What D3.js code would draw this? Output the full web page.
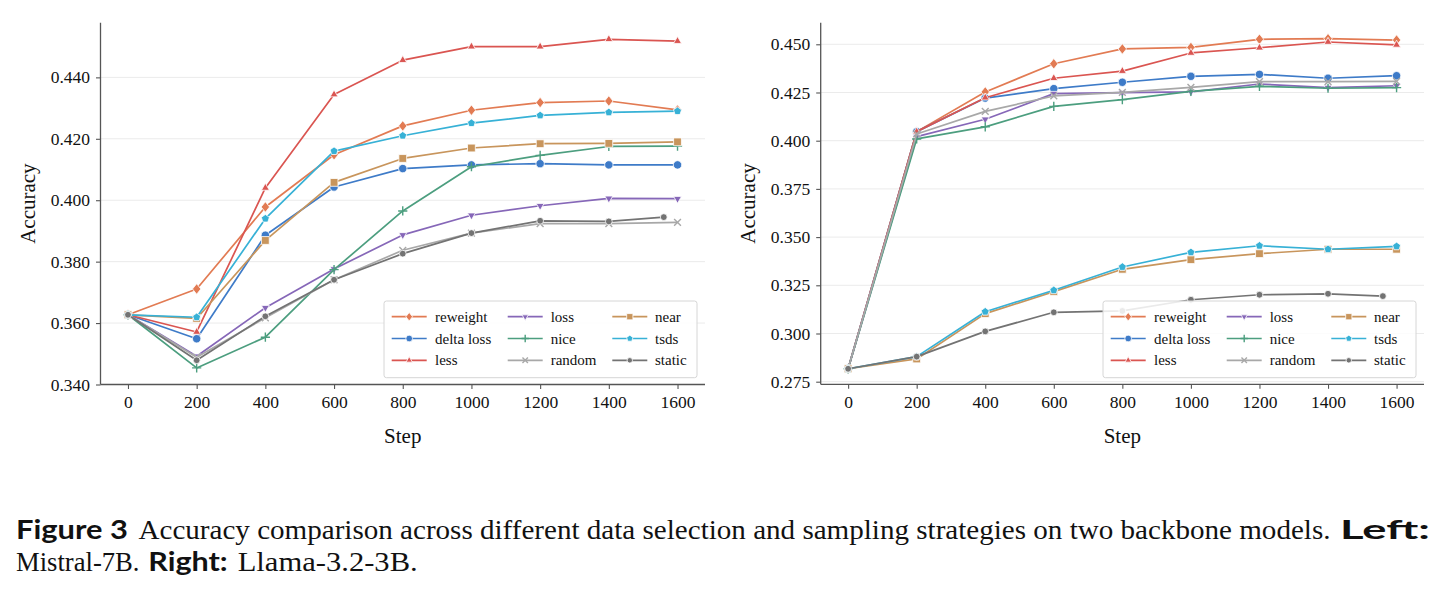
<!DOCTYPE html>
<html>
<head>
<meta charset="utf-8">
<script src="https://cdn.jsdelivr.net/npm/d3@7"></script>
<style>
  body { margin: 0; background: #fff; }
  svg { display: block; }
</style>
</head>
<body>
<div id="chart"></div>
<script>
// steps on the x axis; "static" stops a bit before 1600
const steps = [0, 200, 400, 600, 800, 1000, 1200, 1400, 1600];
const staticSteps = [0, 200, 400, 600, 800, 1000, 1200, 1400, 1560];

const seriesNames = ["reweight", "delta loss", "less", "loss", "nice", "random", "near", "tsds", "static"];

// Mistral-7B (left), one row per series, same order as seriesNames
const mistralAcc = [
  [0.3627, 0.3711, 0.3978, 0.4148, 0.4242, 0.4293, 0.4318, 0.4323, 0.4294],
  [0.3627, 0.3549, 0.3886, 0.4043, 0.4103, 0.4115, 0.4119, 0.4115, 0.4115],
  [0.3627, 0.3571, 0.4040, 0.4344, 0.4456, 0.4500, 0.4500, 0.4524, 0.4518],
  [0.3627, 0.3492, 0.3650, 0.3776, 0.3887, 0.3951, 0.3982, 0.4006, 0.4005],
  [0.3627, 0.3454, 0.3554, 0.3774, 0.3965, 0.4109, 0.4146, 0.4175, 0.4176],
  [0.3627, 0.3489, 0.3617, 0.3741, 0.3837, 0.3893, 0.3924, 0.3924, 0.3928],
  [0.3627, 0.3615, 0.3869, 0.4058, 0.4136, 0.4170, 0.4184, 0.4185, 0.4190],
  [0.3627, 0.3619, 0.3940, 0.4160, 0.4210, 0.4251, 0.4276, 0.4286, 0.4290],
  [0.3627, 0.3479, 0.3622, 0.3741, 0.3826, 0.3893, 0.3933, 0.3931, 0.3945]
];

// Llama-3.2-3B (right)
const llamaAcc = [
  [0.2817, 0.4047, 0.4253, 0.4399, 0.4476, 0.4484, 0.4526, 0.4529, 0.4522],
  [0.2817, 0.4047, 0.4221, 0.4270, 0.4303, 0.4334, 0.4344, 0.4324, 0.4337],
  [0.2817, 0.4047, 0.4223, 0.4324, 0.4361, 0.4455, 0.4482, 0.4512, 0.4497],
  [0.2817, 0.4021, 0.4111, 0.4244, 0.4249, 0.4253, 0.4294, 0.4275, 0.4285],
  [0.2817, 0.4009, 0.4072, 0.4178, 0.4213, 0.4256, 0.4282, 0.4272, 0.4275],
  [0.2817, 0.4035, 0.4152, 0.4232, 0.4251, 0.4277, 0.4306, 0.4306, 0.4308],
  [0.2817, 0.2868, 0.3103, 0.3217, 0.3333, 0.3383, 0.3414, 0.3437, 0.3437],
  [0.2817, 0.2880, 0.3113, 0.3224, 0.3345, 0.3421, 0.3455, 0.3437, 0.3452],
  [0.2817, 0.2880, 0.3011, 0.3110, 0.3117, 0.3175, 0.3201, 0.3206, 0.3194]
];

const leftYTicks = [0.34, 0.36, 0.38, 0.40, 0.42, 0.44];
const rightYTicks = [0.275, 0.30, 0.325, 0.35, 0.375, 0.40, 0.425, 0.45];

// styles
const seriesColors = ["#e27b53", "#3e7bc8", "#da5551", "#8667b8", "#4c9e7f", "#a8a8a8", "#c8955c", "#37b1d6", "#737373"];
const seriesMarkers = ["diamond", "circle", "triUp", "triDown", "plus", "cross", "square", "pentagon", "dot"];

const serif = '"Liberation Serif", "Times New Roman", serif';

const svg = d3.select("#chart")
  .append("svg")
  .attr("width", 1447)
  .attr("height", 593);

// marker path centred on 0,0
function markerPath(type, k) {
  const poly = (r, angles) => "M" + angles.map(a => {
    const t = a * Math.PI / 180;
    return [r * Math.cos(t), r * Math.sin(t)].join(",");
  }).join("L") + "Z";
  let r;
  switch (type) {
    case "diamond": r = 4.2 * k; return `M0,${-r * 1.25}L${r},0L0,${r * 1.25}L${-r},0Z`;
    case "circle": r = 4.2 * k; return `M${r},0A${r},${r} 0 1,1 ${-r},0A${r},${r} 0 1,1 ${r},0Z`;
    case "dot": r = 3.4 * k; return `M${r},0A${r},${r} 0 1,1 ${-r},0A${r},${r} 0 1,1 ${r},0Z`;
    case "triUp": return poly(4.6 * k, [-90, 30, 150]);
    case "triDown": return poly(4.6 * k, [90, 210, 330]);
    case "square": r = 3.9 * k; return `M${-r},${-r}H${r}V${r}H${-r}Z`;
    case "pentagon": return poly(4.2 * k, [-90, -18, 54, 126, 198]);
    case "plus": r = 4.6 * k; return `M${-r},0H${r}M0,${-r}V${r}`;
    case "cross": r = 3.4 * k; return `M${-r},${-r}L${r},${r}M${-r},${r}L${r},${-r}`;
  }
}
const strokeMarker = t => t === "plus" || t === "cross";

function drawMarker(g, type, color, x, y, k) {
  const p = g.append("path")
    .attr("d", markerPath(type, k))
    .attr("transform", `translate(${x},${y})`);
  if (strokeMarker(type)) {
    p.attr("fill", "none").attr("stroke", color).attr("stroke-width", 1.4);
  } else {
    p.attr("fill", color).attr("stroke", "#fff").attr("stroke-width", 0.8);
  }
}

function drawPanel(p) {
  const x = d3.scaleLinear().domain([-80, 1680]).range([p.x0, p.x1]);
  const y = d3.scaleLinear().domain(p.yDomain).range([p.y1, p.y0]);
  const g = svg.append("g");

  // horizontal grid
  g.selectAll(".grid")
    .data(p.yTicks)
    .enter()
    .append("line")
    .attr("x1", p.x0).attr("x2", p.x1)
    .attr("y1", d => y(d)).attr("y2", d => y(d))
    .attr("stroke", "#ebebeb")
    .attr("stroke-width", 1);

  // lines + markers
  p.values.forEach((vals, i) => {
    const xs = seriesNames[i] === "static" ? staticSteps : steps;
    const pts = vals.map((v, j) => [xs[j], v]);
    const line = d3.line().x(d => x(d[0])).y(d => y(d[1]));
    g.append("path")
      .attr("d", line(pts))
      .attr("fill", "none")
      .attr("stroke", seriesColors[i])
      .attr("stroke-width", 1.7)
      .attr("stroke-linejoin", "round");
    pts.forEach(d => drawMarker(g, seriesMarkers[i], seriesColors[i], x(d[0]), y(d[1]), 1));
  });

  // axes
  const xAxis = g.append("g")
    .attr("transform", `translate(0,${p.y1})`)
    .call(d3.axisBottom(x).tickValues(steps).tickFormat(d3.format("d")).tickSize(4.5).tickPadding(7));
  const yAxis = g.append("g")
    .attr("transform", `translate(${p.x0},0)`)
    .call(d3.axisLeft(y).tickValues(p.yTicks).tickFormat(d3.format(".3f")).tickSize(4.5).tickPadding(6));
  [xAxis, yAxis].forEach(a => {
    a.select(".domain").attr("stroke", "#555").attr("stroke-width", 1.3);
    a.selectAll(".tick line").attr("stroke", "#555").attr("stroke-width", 1.1);
    a.selectAll("text")
      .style("font-family", serif)
      .style("font-size", "17.5px")
      .attr("fill", "#111");
  });
  // trim the domain lines to the plot span
  yAxis.select(".domain").attr("d", `M0,${p.y0}V${p.y1}`);
  xAxis.select(".domain").attr("d", `M${p.x0},0H${p.x1}`);

  // axis titles
  g.append("text")
    .attr("x", (p.x0 + p.x1) / 2)
    .attr("y", 443)
    .attr("text-anchor", "middle")
    .style("font-family", serif)
    .style("font-size", "21px")
    .attr("fill", "#111")
    .text("Step");
  g.append("text")
    .attr("transform", `translate(${p.x0 - 73},${(p.y0 + p.y1) / 2}) rotate(-90)`)
    .attr("dy", "0.35em")
    .attr("text-anchor", "middle")
    .style("font-family", serif)
    .style("font-size", "21px")
    .attr("fill", "#111")
    .text("Accuracy");

  // legend, 3 columns filled column-wise
  const lx = p.x1 - 321, ly = 301;
  const lg = g.append("g").attr("transform", `translate(${lx},${ly})`);
  lg.append("rect")
    .attr("width", 313).attr("height", 76.7)
    .attr("rx", 2.5)
    .attr("fill", "#fff").attr("fill-opacity", 0.85)
    .attr("stroke", "#d6d6d6").attr("stroke-width", 1);
  const colX = [7.7, 123.7, 228.3];
  const textX = [51, 166.7, 271];
  seriesNames.forEach((name, i) => {
    const c = Math.floor(i / 3), r = i % 3;
    const cy = 15.7 + r * 21.8;
    lg.append("line")
      .attr("x1", colX[c]).attr("x2", colX[c] + 35)
      .attr("y1", cy).attr("y2", cy)
      .attr("stroke", seriesColors[i]).attr("stroke-width", 1.7);
    drawMarker(lg, seriesMarkers[i], seriesColors[i], colX[c] + 17.5, cy, 0.8);
    lg.append("text")
      .attr("x", textX[c]).attr("y", cy + 5)
      .style("font-family", serif)
      .style("font-size", "15px")
      .attr("fill", "#111")
      .text(name);
  });
}

drawPanel({ x0: 100.5, x1: 705, y0: 22.7, y1: 384.5, yDomain: [0.34, 0.4578], yTicks: leftYTicks, values: mistralAcc });
drawPanel({ x0: 820.7, x1: 1424, y0: 22.7, y1: 384.3, yDomain: [0.27365, 0.4612], yTicks: rightYTicks, values: llamaAcc });

// caption
const sans = 'Lato, "Open Sans", "DejaVu Sans", sans-serif';
const caption = [
  { t: "Figure 3", x: 16, w: 112, y: 539, bold: true },
  { t: "Accuracy comparison across different data selection and sampling strategies on two backbone models.", x: 138.5, w: 1192, y: 539, bold: false },
  { t: "Left:", x: 1340, w: 90, y: 539, bold: true },
  { t: "Mistral-7B.", x: 16, w: 123.5, y: 571, bold: false },
  { t: "Right:", x: 148.3, w: 79.4, y: 571, bold: true },
  { t: "Llama-3.2-3B.", x: 237.7, w: 180, y: 571, bold: false }
];
svg.selectAll(".cap")
  .data(caption)
  .enter()
  .append("text")
  .attr("x", d => d.x)
  .attr("y", d => d.y)
  .attr("textLength", d => d.w)
  .attr("lengthAdjust", "spacingAndGlyphs")
  .style("font-family", d => d.bold ? sans : serif)
  .style("font-weight", d => d.bold ? 700 : 400)
  .style("font-size", d => d.bold ? "26px" : "27px")
  .attr("fill", "#111")
  .text(d => d.t);
</script>
</body>
</html>
